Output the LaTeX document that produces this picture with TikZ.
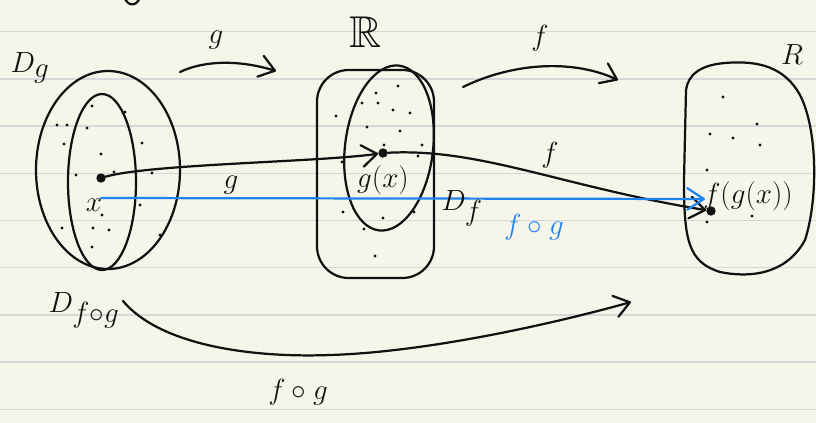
\documentclass[tikz,border=0pt]{standalone}
\usepackage{amsmath,amssymb}
\usepackage{xcolor}
\usetikzlibrary{positioning,arrows.meta,calc}
\definecolor{paper}{HTML}{F6F5EA}
\definecolor{rule}{HTML}{D6D7D9}
\definecolor{ink}{HTML}{111111}
\definecolor{pen}{HTML}{1E82F0}
\tikzset{
  stroke/.style={draw=ink, line width=1.9pt, line cap=round, line join=round},
  ar/.style={stroke, -{Straight Barb[length=4.5mm, width=6.5mm, round]}},
  bar/.style={draw=pen, line width=1.9pt, line cap=round,
              -{Straight Barb[length=5mm, width=6.5mm, round]}},
  pt/.style={circle, fill=ink, inner sep=0pt, minimum size=8pt},
  hand/.style={font=\fontsize{26}{28}\selectfont, text=ink, inner sep=1pt},
  big/.style={font=\fontsize{38}{40}\selectfont, text=ink, inner sep=1pt},
}

\begin{document}
\begin{tikzpicture}[x=0.03cm, y=-0.03cm]
% paper
\fill[paper] (0,0) rectangle (816,423);
\useasboundingbox (0,0) rectangle (816,423);
\clip (0,0) rectangle (816,423);
\foreach \y in {31.7,78.9,126.1,173.3,220.5,267.7,314.9,362.1,409.3}
  \draw[rule, line width=1.3pt] (0,\y) -- (816,\y);
\draw[stroke] (124,-4) .. controls (127,7) and (137,7) .. (140,-3);

% the three sets
\draw[stroke] (108,170) ellipse (72 and 99);
\draw[stroke] (102,182) ellipse (34 and 88);
\draw[stroke, rounded corners=0.95cm] (317,70) rectangle (434,278);
\draw[stroke, rotate around={-7:(389,148)}] (389,148) ellipse (44 and 83);
\draw[stroke] (686,90) -- (684,180) .. controls (684,240) and (688,262) .. (720,272)
  .. controls (760,280) and (790,268) .. (805,240)
  .. controls (818,200) and (818,130) .. (800,95)
  .. controls (785,68) and (760,60) .. (725,63)
  .. controls (700,65) and (688,75) .. cycle;

% specks
\foreach \p in {(57,125),(67,125),(87,128),(64,144),(101,154),(92,106),(125,112),
  (142,143),(114,172),(76,175),(152,173),(102,215),(140,205),(62,228),(93,228),
  (109,230),(92,247),(160,235),(376,93),(398,86),(362,103),(378,103),(336,116),
  (393,110),(410,113),(367,127),(400,131),(422,145),(384,145),(342,162),(418,156),
  (343,212),(414,212),(364,229),(383,218),(375,256),(723,97),(757,124),(710,134),
  (733,138),(760,145),(707,170),(752,216),(707,222)}
  \fill[ink] \p circle (1.4pt);

% points
\node[pt] (x) at (101,178) {};
\node[pt] (gx) at (383,153) {};
\node[pt] (fgx) at (711,211) {};
\coordinate (xs) at (101,198);
\coordinate (fgxb) at (705,199);

% maps through the points
\draw[ar] (x) .. controls (150,164) and (320,162) .. (gx);
\draw[ar] (gx) .. controls (480,148) and (560,186) .. (fgx);
\draw[bar] (xs) -- (fgxb);

% top and bottom arrows
\coordinate (gs) at (180,72);
\coordinate (ge) at (276,71);
\coordinate (fs) at (463,87);
\coordinate (fe) at (618,80);
\coordinate (cs) at (123,301);
\coordinate (cm) at (330,355);
\coordinate (ce) at (631,302);
\draw[ar] (gs) .. controls (205,60) and (240,60) .. (ge);
\draw[ar] (fs) .. controls (510,64) and (570,58) .. (fe);
\draw[ar] (cs) .. controls (160,345) and (250,358) .. (cm)
  .. controls (430,352) and (560,322) .. (ce);

% labels
\node[big] (dg) at (30,68) {$D_g$};
\node[big] (rmid) at (366,32) {$\mathbb{R}$};
\node[big] (rend) at (792,55) {$R$};
\node[big] (df) at (462,208) {$D_f$};
\node[big] (dfog) at (84,310) {$D_{f\circ g}$};
\node[hand] (lg) at (216,40) {$g$};
\node[hand] (lf) at (540,38) {$f$};
\node[hand] (mg) at (231,185) {$g$};
\node[hand] (mf) at (550,155) {$f$};
\node[hand] (lx) at (94,205) {$x$};
\node[hand, below=2mm of gx] (lgx) {$g(x)$};
\node[hand] (lfgx) at (748,196) {$f(g(x))$};
\node[hand, text=pen] (lfog) at (534,227) {$f\circ g$};
\node[hand] (bfog) at (298,392) {$f\circ g$};
\end{tikzpicture}
\end{document}
